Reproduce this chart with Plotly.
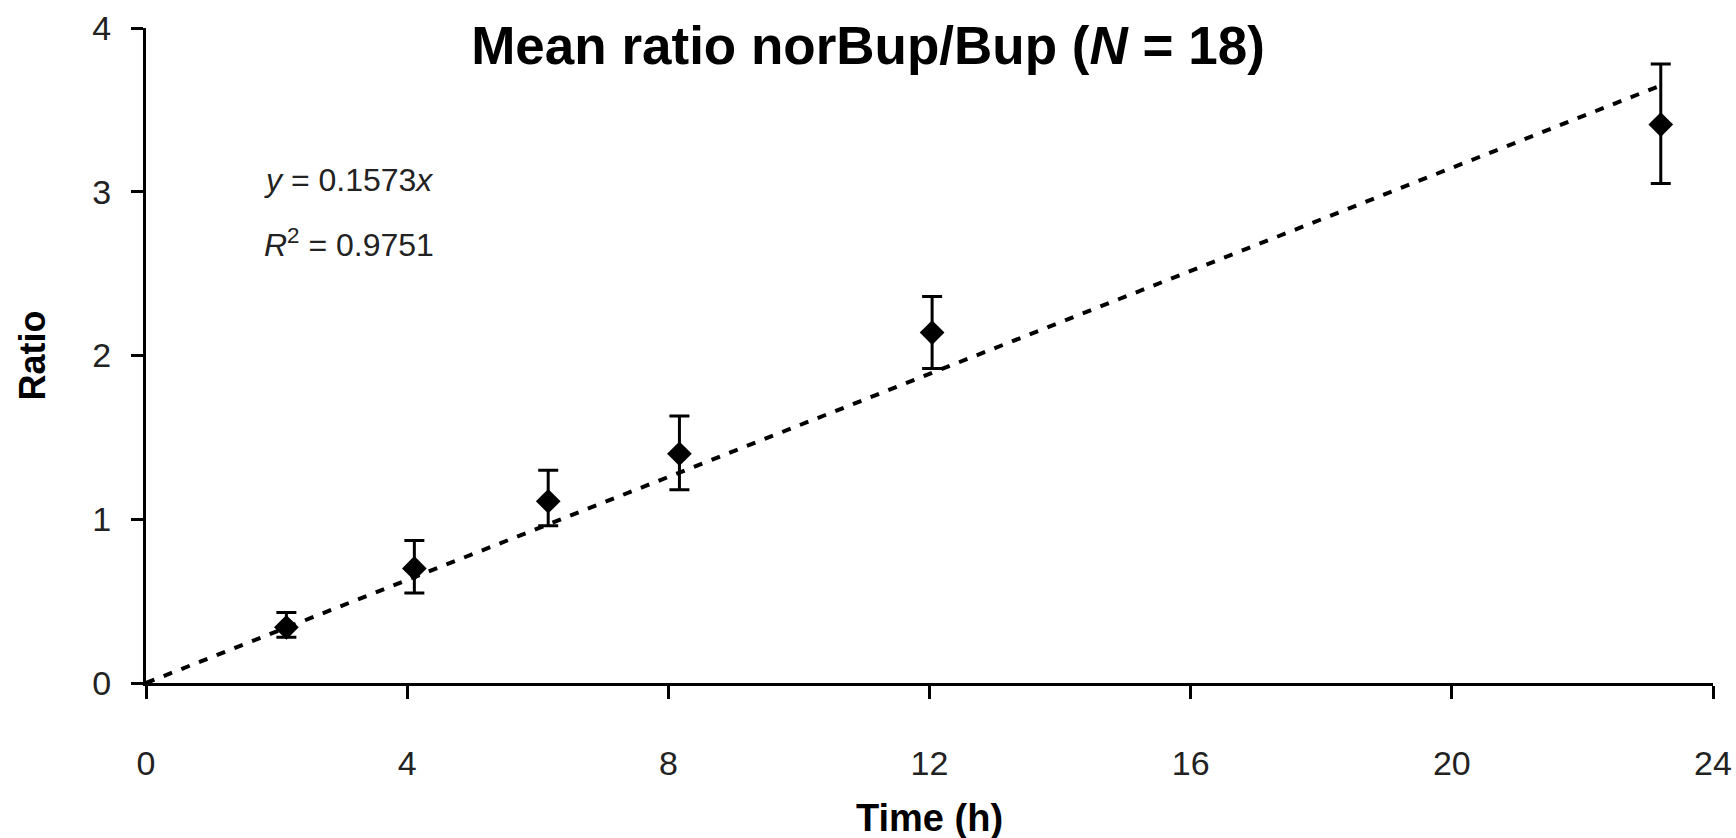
import plotly.graph_objects as go

# Data
time_h = [2.15, 4.11, 6.16, 8.17, 12.04, 23.2]
mean_ratio = [0.34, 0.70, 1.11, 1.40, 2.14, 3.41]
err_plus = [0.09, 0.17, 0.19, 0.23, 0.22, 0.37]
err_minus = [0.06, 0.15, 0.15, 0.22, 0.22, 0.36]

slope = 0.1573
r_squared = 0.9751
trend_x = [0, 23.25]
trend_y = [slope * v for v in trend_x]

x_ticks = [0, 4, 8, 12, 16, 20, 24]
y_ticks = [0, 1, 2, 3, 4]

FONT = "Liberation Sans, Arial, Helvetica, sans-serif"

fig = go.Figure()

fig.add_trace(go.Scatter(
    x=trend_x, y=trend_y, mode="lines",
    line=dict(color="black", width=4, dash="9px,10px"),
    hoverinfo="skip", showlegend=False,
))

fig.add_trace(go.Scatter(
    x=time_h, y=mean_ratio, mode="markers",
    marker=dict(symbol="diamond", size=19, color="black"),
    error_y=dict(type="data", symmetric=False, array=err_plus, arrayminus=err_minus,
                 color="black", thickness=3, width=10),
    showlegend=False,
))

fig.add_annotation(
    x=1.78, y=3.07, xref="x", yref="y", xanchor="left", yanchor="middle",
    text=f"<i>y</i> = {slope}<i>x</i>", showarrow=False,
    font=dict(family=FONT, size=32, color="#222"),
)
fig.add_annotation(
    x=1.78, y=2.69, xref="x", yref="y", xanchor="left", yanchor="middle",
    text=f"<i>R</i><sup>2</sup> = {r_squared}", showarrow=False,
    font=dict(family=FONT, size=32, color="#222"),
)

# x-axis title placed just above the bottom edge, as in the reference
fig.add_annotation(
    x=0.5, y=-0.206, xref="paper", yref="paper", xanchor="center", yanchor="middle",
    text="<b>Time (h)</b>", showarrow=False,
    font=dict(family=FONT, size=38, color="black"),
)

fig.update_layout(
    width=1736, height=838,
    margin=dict(l=146, r=23, t=28, b=155),
    paper_bgcolor="white", plot_bgcolor="white",
    font=dict(family=FONT, color="black"),
    title=dict(
        text="<b>Mean ratio norBup/Bup (<i>N</i> = 18)</b>",
        x=0.5, xanchor="center", xref="container",
        y=1 - 45 / 838, yanchor="middle", yref="container",
        font=dict(family=FONT, size=53, color="black"),
    ),
    xaxis=dict(
        range=[0, 24], tickvals=x_ticks, ticktext=[str(v) for v in x_ticks],
        showline=True, linecolor="black", linewidth=3,
        ticks="outside", ticklen=13, tickwidth=3, tickcolor="black",
        ticklabelstandoff=35, automargin=False,
        tickfont=dict(family=FONT, size=34, color="#222"),
        showgrid=False, zeroline=False,
    ),
    yaxis=dict(
        range=[0, 4], tickvals=y_ticks, ticktext=[str(v) for v in y_ticks],
        showline=True, linecolor="black", linewidth=3,
        ticks="outside", ticklen=12, tickwidth=3, tickcolor="black",
        ticklabelstandoff=13, automargin=False,
        tickfont=dict(family=FONT, size=34, color="#222"),
        showgrid=False, zeroline=False,
        title=dict(text="<b>Ratio</b>", font=dict(family=FONT, size=36, color="black"), standoff=36),
    ),
)

# remove the browser's default 8px body margin so the figure sits at the window origin
fig.write_html(
    "out.html",
    config={"displayModeBar": False},
    post_script="document.body.style.margin='0';",
)
